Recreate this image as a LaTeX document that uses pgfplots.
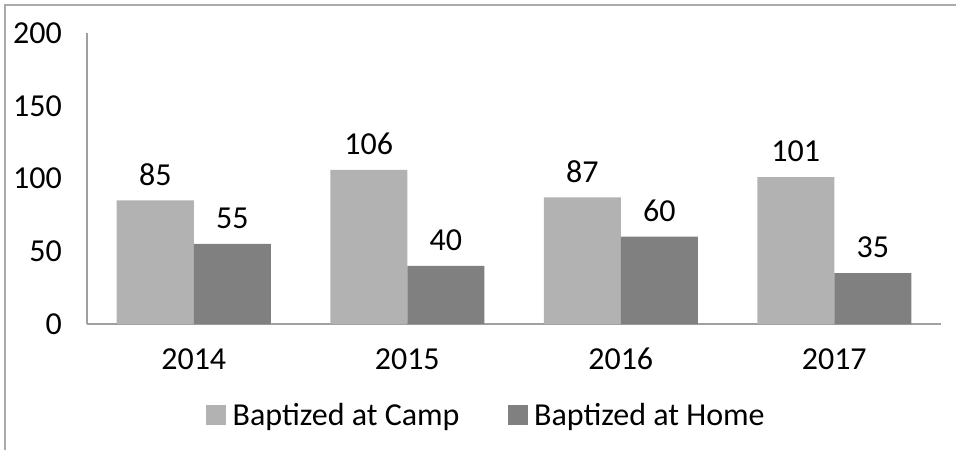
\documentclass[border=0pt]{standalone}
\usepackage{pgfplots}
\pgfplotsset{compat=1.18}
\usepackage{fontspec}
\setmainfont{Carlito}
\definecolor{camp}{RGB}{178,178,178}
\definecolor{home}{RGB}{128,128,128}
\definecolor{axisgray}{RGB}{160,160,160}
\definecolor{framegray}{RGB}{170,170,170}
\begin{document}
\begin{tikzpicture}
\useasboundingbox (0pt,0pt) rectangle (717pt,337.5pt);
\draw[framegray, line width=1.2pt] (3.75pt,0pt) -- (3.75pt,333.75pt) -- (717pt,333.75pt);
\begin{axis}[
  at={(65.25pt,94.5pt)}, anchor=south west,
  scale only axis, width=640.5pt, height=218.25pt,
  xmin=-0.5, xmax=3.5, ymin=0, ymax=200,
  ybar=0pt, bar width=57.75pt,
  axis lines=left,
  axis line style={-, axisgray, line width=1pt},
  xtick={0,1,2,3}, xticklabels={2014,2015,2016,2017},
  ytick={0,50,100,150,200},
  major tick length=0pt,
  tick label style={font=\fontsize{24}{28}\selectfont, inner sep=0pt},
  yticklabel style={anchor=east, xshift=-18.75pt},
  xticklabel style={anchor=base, yshift=-33.75pt},
  /pgf/number format/assume math mode=true,
  nodes near coords,
  every node near coord/.append style={font=\fontsize{24}{28}\selectfont, inner sep=0pt, anchor=south, yshift=11pt, black},
  legend columns=2,
  legend style={at={(0.468,-0.313)}, anchor=center, draw=none, fill=none,
    font=\fontsize{24}{28}\selectfont,
    /tikz/every odd column/.append style={column sep=3pt},
    /tikz/every even column/.append style={column sep=34pt}},
  legend image code/.code={\fill[#1] (0pt,-7.5pt) rectangle (15pt,7.5pt);},
]
\addplot[fill=camp, draw=none] coordinates {(0,85) (1,106) (2,87) (3,101)};
\addplot[fill=home, draw=none] coordinates {(0,55) (1,40) (2,60) (3,35)};
\legend{Baptized at Camp, Baptized at Home}
\end{axis}
\end{tikzpicture}
\end{document}
